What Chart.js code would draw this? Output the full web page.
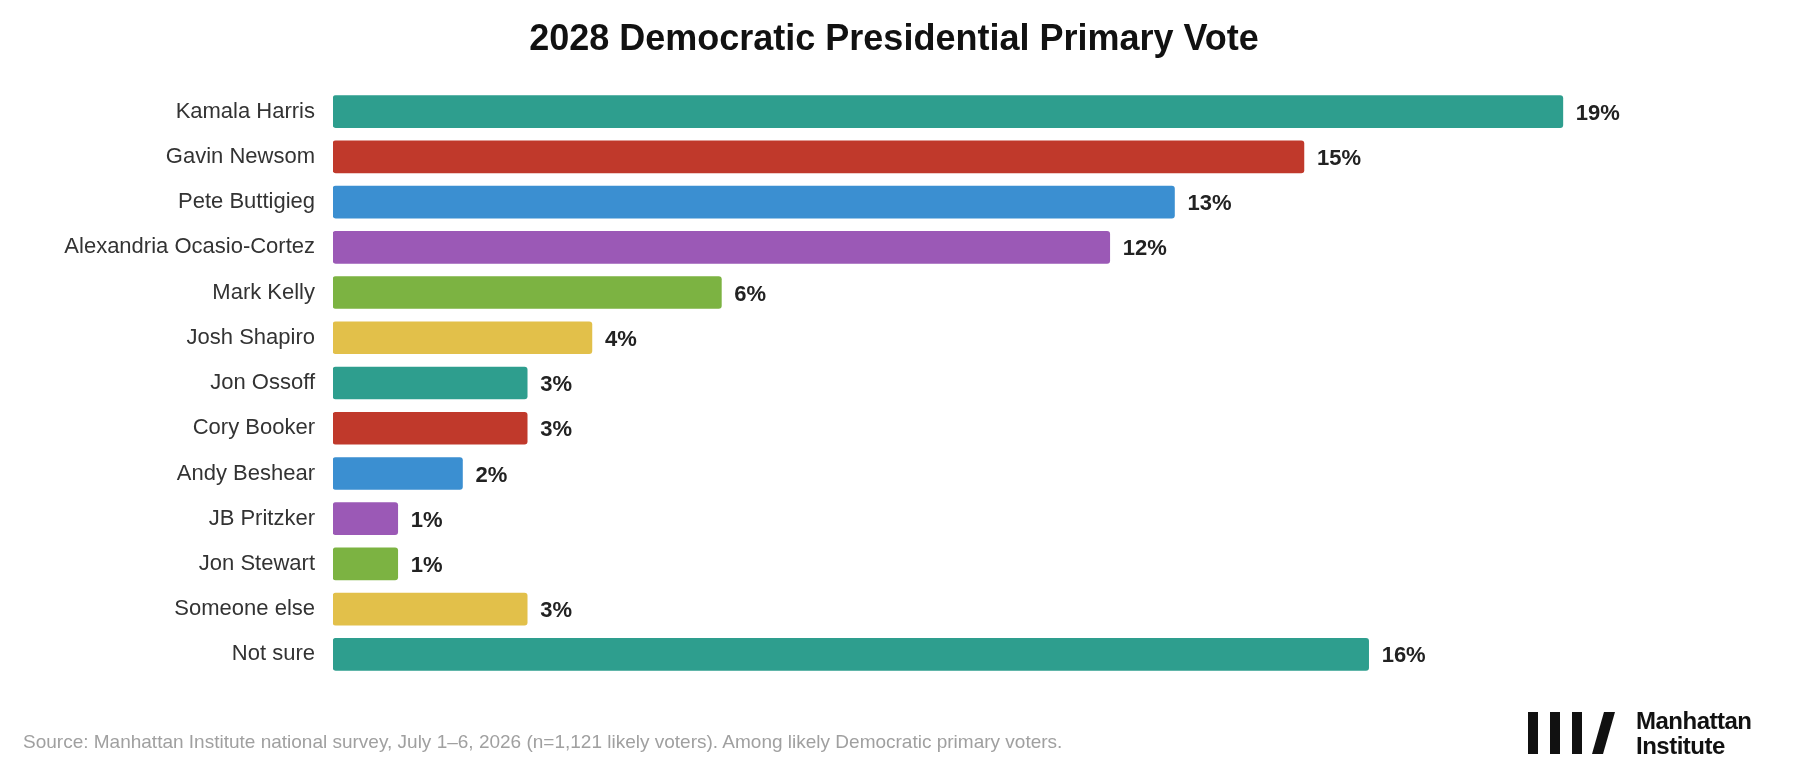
<!DOCTYPE html>
<html>
<head>
<meta charset="utf-8">
<script src="https://cdn.jsdelivr.net/npm/chart.js@4/dist/chart.umd.min.js"></script>
<style>
  body { margin: 0; background: #fff; font-family: "Liberation Sans", Arial, sans-serif; }
  #wrap { position: relative; width: 1800px; height: 773px; }
  #title { position: absolute; top: 17px; left: 0; width: 1788px; text-align: center; font-size: 36px; font-weight: bold; color: #111; }
  #source { position: absolute; left: 23px; top: 731px; font-size: 19px; color: #a0a0a0; }
  #logo { position: absolute; left: 1528px; top: 708px; display: flex; align-items: center; }
  #logo .txt { margin-left: 16px; font-size: 24px; font-weight: bold; line-height: 25px; color: #111; letter-spacing: -0.5px; }
</style>
</head>
<body>
<div id="wrap">
  <canvas id="chart" width="1800" height="773"></canvas>
  <div id="title">2028 Democratic Presidential Primary Vote</div>
  <div id="source">Source: Manhattan Institute national survey, July 1–6, 2026 (n=1,121 likely voters). Among likely Democratic primary voters.</div>
  <div id="logo">
    <svg width="92" height="46" viewBox="0 0 92 46">
      <rect x="0" y="2" width="10" height="42" fill="#111"/>
      <rect x="22" y="2" width="10" height="42" fill="#111"/>
      <rect x="44" y="2" width="10" height="42" fill="#111"/>
      <polygon points="76,2 87,2 75,44 64,44" fill="#111"/>
    </svg>
    <div class="txt">Manhattan<br>Institute</div>
  </div>
</div>
<script>
const candidates = ['Kamala Harris', 'Gavin Newsom', 'Pete Buttigieg', 'Alexandria Ocasio-Cortez', 'Mark Kelly',
  'Josh Shapiro', 'Jon Ossoff', 'Cory Booker', 'Andy Beshear', 'JB Pritzker', 'Jon Stewart', 'Someone else', 'Not sure'];
const votes = [19, 15, 13, 12, 6, 4, 3, 3, 2, 1, 1, 3, 16];
const palette = ['#2e9e8e', '#c0392b', '#3b8fd1', '#9b59b6', '#7cb342', '#e2c04a'];
const barColors = candidates.map((c, i) => palette[i % palette.length]);

const valueLabels = {
  id: 'valueLabels',
  afterDatasetsDraw(chart) {
    const ctx = chart.ctx;
    const meta = chart.getDatasetMeta(0);
    ctx.save();
    ctx.font = 'bold 22px "Liberation Sans", Arial, sans-serif';
    ctx.fillStyle = '#222';
    ctx.textBaseline = 'middle';
    meta.data.forEach((bar, i) => {
      ctx.fillText(votes[i] + '%', bar.x + 13, bar.y + 2);
    });
    ctx.restore();
  }
};

new Chart(document.getElementById('chart'), {
  type: 'bar',
  data: {
    labels: candidates,
    datasets: [{
      data: votes,
      backgroundColor: barColors,
      borderRadius: 3,
      borderSkipped: false,
      barThickness: 32
    }]
  },
  options: {
    indexAxis: 'y',
    responsive: false,
    animation: false,
    layout: { padding: { top: 89, bottom: 96, right: 98, left: 0 } },
    plugins: { legend: { display: false }, tooltip: { enabled: false } },
    scales: {
      x: { min: 0, max: 21.15, display: false },
      y: {
        grid: { display: false },
        border: { display: false },
        ticks: { color: '#333', padding: 10, font: { size: 22, family: '"Liberation Sans", Arial, sans-serif' } },
        afterFit(scale) { scale.width = 333; }
      }
    }
  },
  plugins: [valueLabels]
});
</script>
</body>
</html>
